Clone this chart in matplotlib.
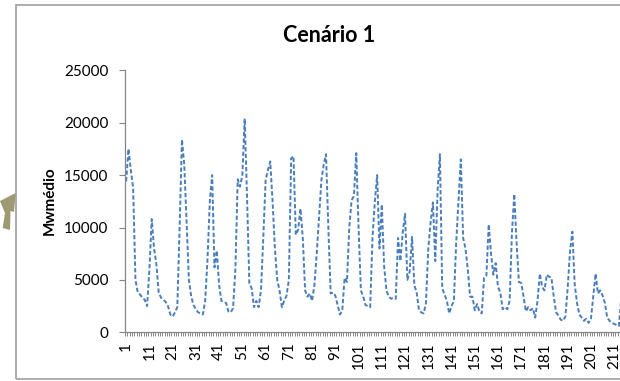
import matplotlib.pyplot as plt
import matplotlib.patches as mpatches
import numpy as np

plt.rcParams['font.family'] = ['Lato', 'DejaVu Sans']

# Mwmédio por mês
valores = [
    14400, 17500, 15500, 13800, 5000, 3800, 3600, 3300, 3100, 2500,
    6000, 10800, 8000, 6500, 3800, 3300, 3100, 2900, 2500, 1700,
    1500, 1900, 2400, 10000, 18400, 16000, 10500, 5000, 3400, 2600,
    2200, 1900, 1800, 1700, 3000, 7000, 12500, 15000, 6200, 7800,
    4500, 3000, 2900, 2800, 2000, 1900, 2300, 6000, 14600, 13900,
    15000, 20400, 13000, 4700, 4200, 2400, 3000, 2400, 4000, 9000,
    14500, 15500, 16300, 12500, 8000, 5000, 4000, 2400, 3000, 3500,
    5000, 16600, 16800, 9300, 9800, 11800, 9000, 4000, 3400, 3700,
    3000, 4500, 7500, 11000, 14500, 16000, 17000, 10000, 3700, 3800,
    3500, 2600, 1700, 2100, 5200, 4800, 10000, 12600, 13000, 17100,
    10000, 4000, 3400, 2600, 2500, 2400, 9000, 12500, 15000, 8000,
    12200, 6300, 4000, 3400, 3200, 3300, 3200, 9000, 6800, 9500,
    11300, 5000, 5800, 9100, 4500, 3800, 2100, 1900, 1800, 2800,
    8000, 10500, 12400, 6800, 13500, 17000, 4200, 3600, 3000, 1800,
    2500, 3000, 8500, 12600, 16500, 9000, 8000, 6000, 3400, 3400,
    2100, 2700, 2000, 1800, 5200, 5400, 10300, 7500, 5500, 6600,
    4300, 3800, 2200, 2400, 2200, 3000, 9500, 13200, 8500, 4800,
    4700, 3400, 2000, 2400, 2100, 2300, 1400, 3000, 5600, 4300,
    4000, 5500, 5300, 5200, 3400, 1900, 1600, 1200, 1100, 1500,
    4300, 7800, 9600, 4600, 2800, 1700, 1400, 1100, 1300, 900,
    1300, 3500, 5600, 3700, 4000, 3500, 2800, 1400, 1100, 900,
    800, 700, 600, 3200,
]
meses = np.arange(1, len(valores) + 1)
n_categorias = 240
rotulos_x = np.arange(1, 212, 10)   # só os rótulos que aparecem no recorte
ticks_y = [0, 5000, 10000, 15000, 20000, 25000]

fig = plt.figure(figsize=(6.2, 3.81), dpi=100)

# moldura do gráfico (cortada à direita)
W, H = 620, 381
moldura = mpatches.Rectangle((16 / W, 2 / H), 1.2, (379 - 5) / H, transform=fig.transFigure,
                             fill=False, edgecolor='#a6a6a6', linewidth=1.3)
fig.add_artist(moldura)

# seta decorativa à esquerda
seta_px = [(2.7, 228), (5, 213), (0, 201), (15.7, 193), (14, 212), (10.5, 211), (10, 230)]
seta = mpatches.Polygon([(x / W, 1 - y / H) for x, y in seta_px], closed=True,
                        transform=fig.transFigure, facecolor='#9e9a74', edgecolor='none')
fig.add_artist(seta)

ax = fig.add_axes([125 / W, 1 - 332.3 / H, (n_categorias * 2.324) / W, (332.3 - 70.3) / H])
ax.plot(meses, valores, color='#4a7ebb', linewidth=1.4, linestyle=(0, (2.2, 1.2)))

ax.set_xlim(0.5, n_categorias + 0.5)
ax.set_ylim(0, 25000)
ax.set_yticks(ticks_y)
ax.set_yticklabels([str(t) for t in ticks_y], fontsize=11)
ax.set_xticks(rotulos_x)
ax.set_xticklabels([str(r) for r in rotulos_x], rotation=90, fontsize=11)
ax.set_xticks(np.arange(0.5, n_categorias + 1, 1), minor=True)

ax.tick_params(axis='x', which='major', length=0, pad=7)
ax.tick_params(axis='x', which='minor', length=3, color='#868686', width=0.7)
ax.tick_params(axis='y', length=4, color='#868686', width=0.8, pad=8)

for lado in ['top', 'right']:
    ax.spines[lado].set_visible(False)
for lado in ['left', 'bottom']:
    ax.spines[lado].set_color('#868686')
    ax.spines[lado].set_linewidth(0.9)

fig.text(329 / W, 1 - 35 / H, 'Cenário 1', ha='center', va='center',
         fontsize=15.5, fontweight='bold')
fig.text(50 / W, 1 - 201 / H, 'Mwmédio', ha='center', va='center', rotation=90,
         fontsize=11, fontweight='bold')

fig.savefig('out.png', dpi=100)
